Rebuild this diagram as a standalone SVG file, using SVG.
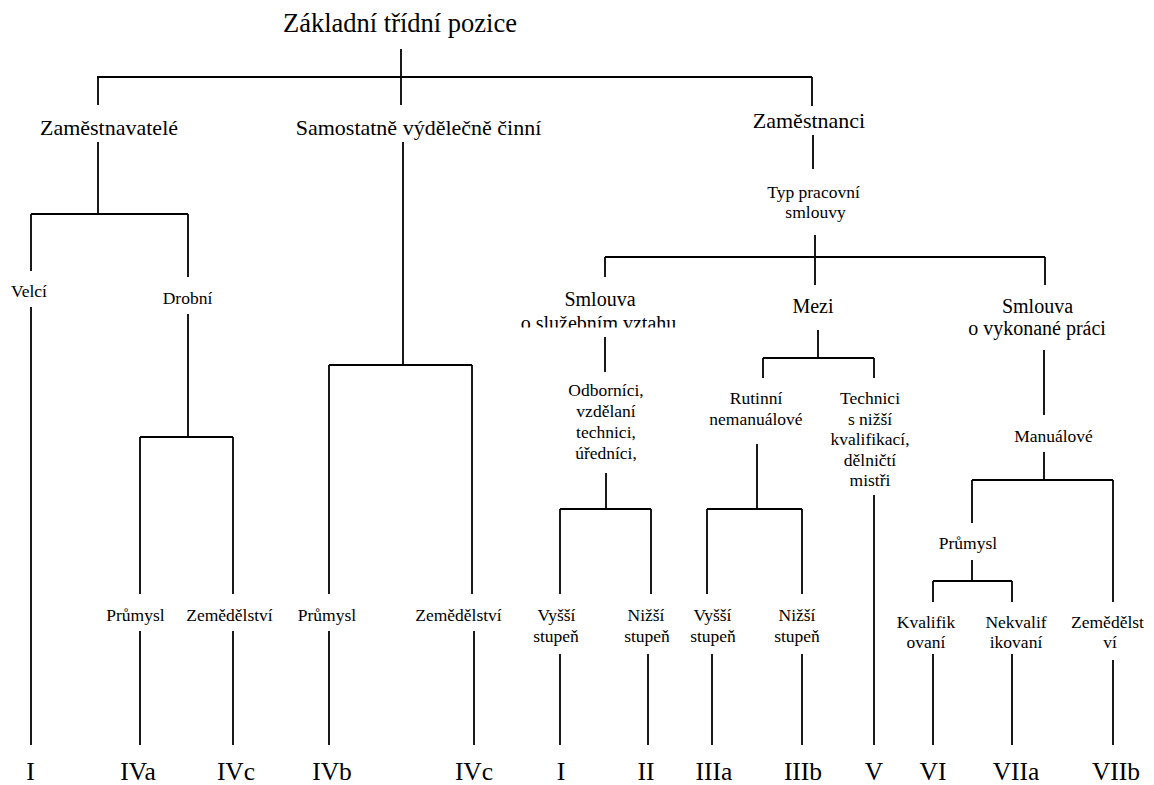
<svg xmlns="http://www.w3.org/2000/svg" width="1154" height="785" viewBox="0 0 1154 785">
<style>
text{font-family:'Liberation Serif','Times New Roman','DejaVu Serif',serif;fill:#000;text-anchor:middle}
.t0{font-size:26.5px}
.t1{font-size:22px}
.t2{font-size:20px}
.t3{font-size:17.5px}
.t4{font-size:25.5px}
.c line{stroke:#000;stroke-width:1.8;fill:none}
</style>
<defs>
<clipPath id="clipSl"><rect x="500" y="300" width="200" height="27.5"/></clipPath>
</defs>
<rect width="1154" height="785" fill="#fff"/>
<g class="c" id="connectors">
<line x1="401" y1="49" x2="401" y2="105"/>
<line x1="97" y1="77" x2="812" y2="77"/>
<line x1="98" y1="77" x2="98" y2="105"/>
<line x1="812" y1="77" x2="812" y2="106"/>
<line x1="98" y1="142" x2="98" y2="214"/>
<line x1="31" y1="214" x2="188" y2="214"/>
<line x1="31" y1="214" x2="31" y2="271"/>
<line x1="31" y1="307" x2="31" y2="745"/>
<line x1="188" y1="214" x2="188" y2="277"/>
<line x1="188" y1="314" x2="188" y2="437"/>
<line x1="140" y1="437" x2="233" y2="437"/>
<line x1="140" y1="437" x2="140" y2="594"/>
<line x1="233" y1="437" x2="233" y2="594"/>
<line x1="140" y1="631" x2="140" y2="745"/>
<line x1="233" y1="631" x2="233" y2="745"/>
<line x1="403" y1="142" x2="403" y2="365"/>
<line x1="329" y1="365" x2="472" y2="365"/>
<line x1="329" y1="365" x2="329" y2="594"/>
<line x1="472" y1="365" x2="472" y2="594"/>
<line x1="329" y1="631" x2="329" y2="745"/>
<line x1="474" y1="631" x2="474" y2="745"/>
<line x1="813" y1="135" x2="813" y2="169"/>
<line x1="815" y1="235" x2="815" y2="285"/>
<line x1="605" y1="257" x2="1045" y2="257"/>
<line x1="605" y1="257" x2="605" y2="277"/>
<line x1="1045" y1="257" x2="1045" y2="285"/>
<line x1="605" y1="337" x2="605" y2="372"/>
<line x1="606" y1="473" x2="606" y2="509"/>
<line x1="560" y1="509" x2="651" y2="509"/>
<line x1="560" y1="509" x2="560" y2="594"/>
<line x1="651" y1="509" x2="651" y2="594"/>
<line x1="560" y1="654" x2="560" y2="745"/>
<line x1="648" y1="654" x2="648" y2="745"/>
<line x1="818" y1="330" x2="818" y2="358"/>
<line x1="763" y1="358" x2="874" y2="358"/>
<line x1="763" y1="358" x2="763" y2="378"/>
<line x1="874" y1="358" x2="874" y2="378"/>
<line x1="757" y1="444" x2="757" y2="509"/>
<line x1="707" y1="509" x2="802" y2="509"/>
<line x1="707" y1="509" x2="707" y2="594"/>
<line x1="802" y1="509" x2="802" y2="594"/>
<line x1="712" y1="654" x2="712" y2="745"/>
<line x1="802" y1="654" x2="802" y2="745"/>
<line x1="874" y1="495" x2="874" y2="745"/>
<line x1="1044" y1="350" x2="1044" y2="415"/>
<line x1="1044" y1="452" x2="1044" y2="480"/>
<line x1="972" y1="480" x2="1113" y2="480"/>
<line x1="972" y1="480" x2="972" y2="523"/>
<line x1="1113" y1="480" x2="1113" y2="602"/>
<line x1="972" y1="560" x2="972" y2="581"/>
<line x1="933" y1="581" x2="1012" y2="581"/>
<line x1="933" y1="581" x2="933" y2="602"/>
<line x1="1012" y1="581" x2="1012" y2="602"/>
<line x1="933" y1="654" x2="933" y2="745"/>
<line x1="1012" y1="654" x2="1012" y2="745"/>
<line x1="1113" y1="660" x2="1113" y2="745"/>
</g>
<g font-family="Liberation Serif, serif">
<g id="root"><text class="t0" x="400" y="32">Základní třídní pozice</text></g>
<g id="zamestnavatele"><text class="t1" x="109" y="135">Zaměstnavatelé</text></g>
<g id="samostatne"><text class="t1" x="418.5" y="135">Samostatně výdělečně činní</text></g>
<g id="zamestnanci"><text class="t1" x="809" y="128">Zaměstnanci</text></g>
<g id="velci"><text class="t3" x="29" y="297">Velcí</text></g>
<g id="drobni"><text class="t3" x="187.5" y="304">Drobní</text></g>
<g id="typ"><text class="t3" x="813.5" y="198">Typ pracovní</text><text class="t3" x="815.5" y="218">smlouvy</text></g>
<g id="smlouva-sluz"><text class="t2" x="600" y="306">Smlouva</text><text class="t2" x="598.5" y="329.5" clip-path="url(#clipSl)">o služebním vztahu</text></g>
<g id="mezi"><text class="t2" x="813" y="313">Mezi</text></g>
<g id="smlouva-prace"><text class="t2" x="1037.5" y="313">Smlouva</text><text class="t2" x="1037" y="335">o vykonané práci</text></g>
<g id="odbornici"><text class="t3" x="606" y="396">Odborníci,</text><text class="t3" x="606" y="417">vzdělaní</text><text class="t3" x="606" y="438">technici,</text><text class="t3" x="606" y="459">úředníci,</text></g>
<g id="rutinni"><text class="t3" x="756" y="404">Rutinní</text><text class="t3" x="756" y="425">nemanuálové</text></g>
<g id="technici"><text class="t3" x="870" y="404">Technici</text><text class="t3" x="870" y="424.5">s nižší</text><text class="t3" x="870" y="445">kvalifikací,</text><text class="t3" x="870" y="465.5">dělničtí</text><text class="t3" x="870" y="486">mistři</text></g>
<g id="manualove"><text class="t3" x="1053.5" y="442">Manuálové</text></g>
<g id="prumysl-m"><text class="t3" x="968" y="549">Průmysl</text></g>
<g id="prumysl-a"><text class="t3" x="135.5" y="621">Průmysl</text></g>
<g id="zemedelstvi-a"><text class="t3" x="229.5" y="621">Zemědělství</text></g>
<g id="prumysl-b"><text class="t3" x="327" y="621">Průmysl</text></g>
<g id="zemedelstvi-b"><text class="t3" x="458.5" y="621">Zemědělství</text></g>
<g id="vyssi-1"><text class="t3" x="556.5" y="621">Vyšší</text><text class="t3" x="556" y="642">stupeň</text></g>
<g id="nizsi-1"><text class="t3" x="646" y="621">Nižší</text><text class="t3" x="647" y="642">stupeň</text></g>
<g id="vyssi-2"><text class="t3" x="712.5" y="621">Vyšší</text><text class="t3" x="713" y="642">stupeň</text></g>
<g id="nizsi-2"><text class="t3" x="797" y="621">Nižší</text><text class="t3" x="797" y="642">stupeň</text></g>
<g id="kvalifikovani"><text class="t3" x="926" y="628">Kvalifik</text><text class="t3" x="926" y="648">ovaní</text></g>
<g id="nekvalifikovani"><text class="t3" x="1016" y="628">Nekvalif</text><text class="t3" x="1016" y="648">ikovaní</text></g>
<g id="zemedelstvi-m"><text class="t3" x="1107.5" y="628">Zemědělst</text><text class="t3" x="1110" y="648">ví</text></g>
<g id="class-I-a"><text class="t4" x="30.5" y="780">I</text></g>
<g id="class-IVa"><text class="t4" x="138" y="780">IVa</text></g>
<g id="class-IVc-a"><text class="t4" x="236" y="780">IVc</text></g>
<g id="class-IVb"><text class="t4" x="332" y="780">IVb</text></g>
<g id="class-IVc-b"><text class="t4" x="474" y="780">IVc</text></g>
<g id="class-I-b"><text class="t4" x="561" y="780">I</text></g>
<g id="class-II"><text class="t4" x="646" y="780">II</text></g>
<g id="class-IIIa"><text class="t4" x="714" y="780">IIIa</text></g>
<g id="class-IIIb"><text class="t4" x="803" y="780">IIIb</text></g>
<g id="class-V"><text class="t4" x="874" y="780">V</text></g>
<g id="class-VI"><text class="t4" x="933" y="780">VI</text></g>
<g id="class-VIIa"><text class="t4" x="1016" y="780">VIIa</text></g>
<g id="class-VIIb"><text class="t4" x="1116" y="780">VIIb</text></g>
</g>
</svg>
